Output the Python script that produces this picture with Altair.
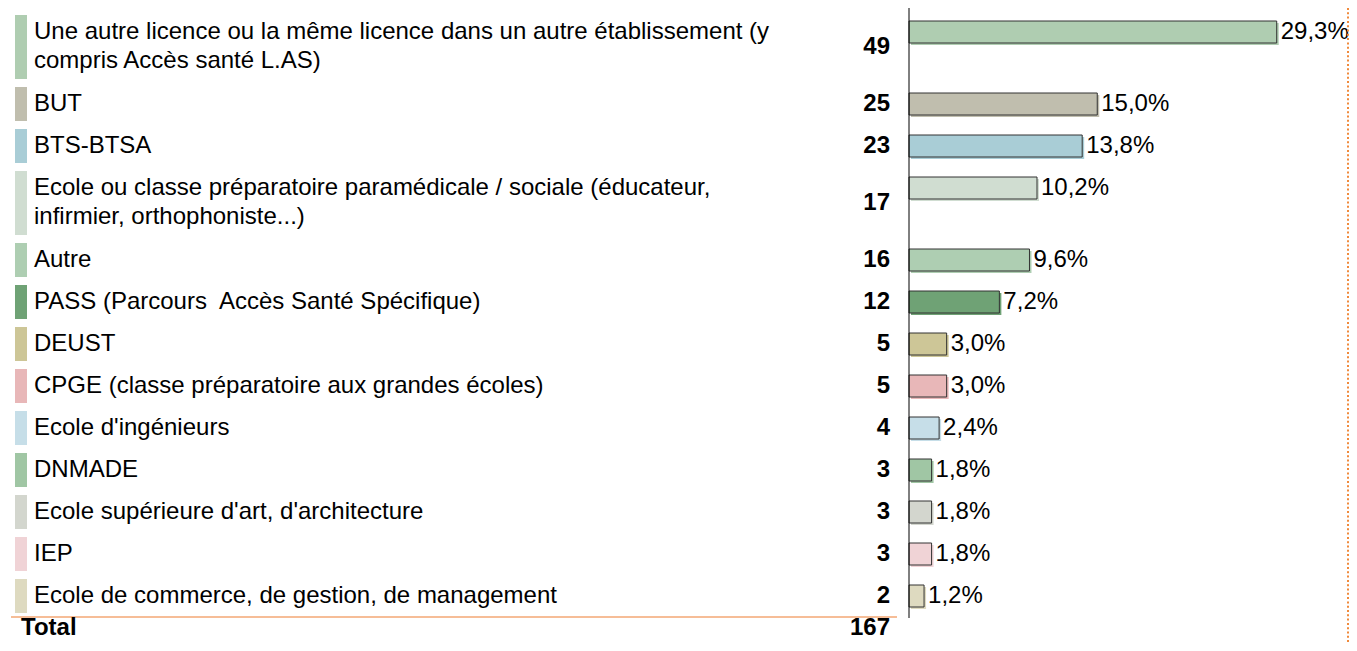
import altair as alt
import pandas as pd

# ---------------- data ----------------
labels = [
    "Une autre licence ou la même licence dans un autre établissement (y\ncompris Accès santé L.AS)",
    "BUT",
    "BTS-BTSA",
    "Ecole ou classe préparatoire paramédicale / sociale (éducateur,\ninfirmier, orthophoniste...)",
    "Autre",
    "PASS (Parcours\u00a0 Accès Santé Spécifique)",
    "DEUST",
    "CPGE (classe préparatoire aux grandes écoles)",
    "Ecole d'ingénieurs",
    "DNMADE",
    "Ecole supérieure d'art, d'architecture",
    "IEP",
    "Ecole de commerce, de gestion, de management",
]
counts = [49, 25, 23, 17, 16, 12, 5, 5, 4, 3, 3, 3, 2]
percents = [29.3, 15.0, 13.8, 10.2, 9.6, 7.2, 3.0, 3.0, 2.4, 1.8, 1.8, 1.8, 1.2]
pct_labels = ["29,3%", "15,0%", "13,8%", "10,2%", "9,6%", "7,2%", "3,0%",
              "3,0%", "2,4%", "1,8%", "1,8%", "1,8%", "1,2%"]
colors = ["#AFCDB1", "#C0BEAE", "#A9CDD6", "#D0DDD1", "#AECEB2", "#6FA275",
          "#CDC697", "#E8B7B8", "#C6DEE8", "#A0C6A4", "#D3D6CE", "#F0D3D6",
          "#DEDAC0"]
total_label = "Total"
total_value = 167

# ---------------- layout (pixels) ----------------
W, H = 1341, 634
TOP = 7          # top of first row
LINE = 30        # extra height per additional text line
SW = 34          # swatch height of a one-line row
GAP = 8          # gap between rows
FONT = "Liberation Sans"
FS = 24

rows = []
y = TOP
for i, lab in enumerate(labels):
    n = lab.count("\n") + 1
    h = SW + LINE * (n - 1)
    rows.append(dict(
        label=lab, count=counts[i], pct=percents[i], pct_label=pct_labels[i],
        top=y, sw_bot=y + h, center=y + h / 2,
        bar_top=y + 6, bar_bot=y + 28, bar_mid=y + 17,
    ))
    y += h + GAP
df = pd.DataFrame(rows)
line_y = y - 4

yscale = alt.Scale(domain=[0, H], range=[0, H], nice=False, zero=False)
xscale = alt.Scale(domain=[0, 34], range=[901, 901 + 34 * 12.55], nice=False)
color = alt.Color("label:N", scale=alt.Scale(domain=labels, range=colors), legend=None)

base = alt.Chart(df)

swatch = base.mark_rect().encode(
    x=alt.value(7), x2=alt.value(19),
    y=alt.Y("top:Q", scale=yscale, axis=None), y2="sw_bot:Q",
    color=color,
)

label_text = base.mark_text(
    align="left", baseline="middle", font=FONT, fontSize=FS,
    lineBreak="\n", lineHeight=29, color="#000000",
).encode(x=alt.value(26), y=alt.Y("bar_mid:Q", scale=yscale, axis=None), text="label:N")

count_text = base.mark_text(
    align="right", baseline="middle", font=FONT, fontSize=FS, fontWeight="bold",
    color="#000000",
).encode(x=alt.value(882), y=alt.Y("center:Q", scale=yscale, axis=None), text="count:Q")

shadow = base.mark_rect(xOffset=2, x2Offset=2, yOffset=2, y2Offset=2).encode(
    x=alt.X("pct:Q", scale=xscale, axis=None), x2=alt.datum(0),
    y=alt.Y("bar_top:Q", scale=yscale, axis=None), y2="bar_bot:Q",
    color=color,
)

bars = base.mark_rect(stroke="#333333", strokeWidth=1).encode(
    x=alt.X("pct:Q", scale=xscale, axis=None), x2=alt.datum(0),
    y=alt.Y("bar_top:Q", scale=yscale, axis=None), y2="bar_bot:Q",
    color=color,
)

pct_text = base.mark_text(
    align="left", baseline="middle", dx=4, font=FONT, fontSize=FS, color="#000000",
).encode(x=alt.X("pct:Q", scale=xscale, axis=None),
         y=alt.Y("bar_mid:Q", scale=yscale, axis=None), text="pct_label:N")

axis_line = alt.Chart(pd.DataFrame({"v": [0]})).mark_rule(color="#000000", strokeWidth=1).encode(
    x=alt.X("v:Q", scale=xscale, axis=None), y=alt.value(0), y2=alt.value(line_y + 1),
)

orange_line = alt.Chart(pd.DataFrame({"v": [0]})).mark_rule(color="#ED7D31", strokeWidth=1.2).encode(
    x=alt.value(3), x2=alt.value(889), y=alt.value(line_y),
)

total_df = pd.DataFrame({"name": [total_label], "value": [total_value]})
total_name = alt.Chart(total_df).mark_text(
    align="left", baseline="middle", font=FONT, fontSize=FS, fontWeight="bold", color="#000000",
).encode(x=alt.value(13), y=alt.value(620), text="name:N")
total_val = alt.Chart(total_df).mark_text(
    align="right", baseline="middle", font=FONT, fontSize=FS, fontWeight="bold", color="#000000",
).encode(x=alt.value(882), y=alt.value(620), text="value:Q")

border = alt.Chart(pd.DataFrame({"v": [0]})).mark_rule(
    color="#F08A3C", strokeWidth=2, strokeDash=[2, 2.3],
).encode(x=alt.value(1340), y=alt.value(0), y2=alt.value(H))

chart = alt.layer(
    swatch, label_text, count_text, shadow, bars, pct_text,
    axis_line, orange_line, total_name, total_val, border,
).properties(
    width=W, height=H, padding=0, autosize=alt.AutoSizeParams(type="none"),
    background="#FFFFFF",
).configure_view(stroke="transparent")

chart.save("out.html", embed_options={"renderer": "svg", "actions": False})
